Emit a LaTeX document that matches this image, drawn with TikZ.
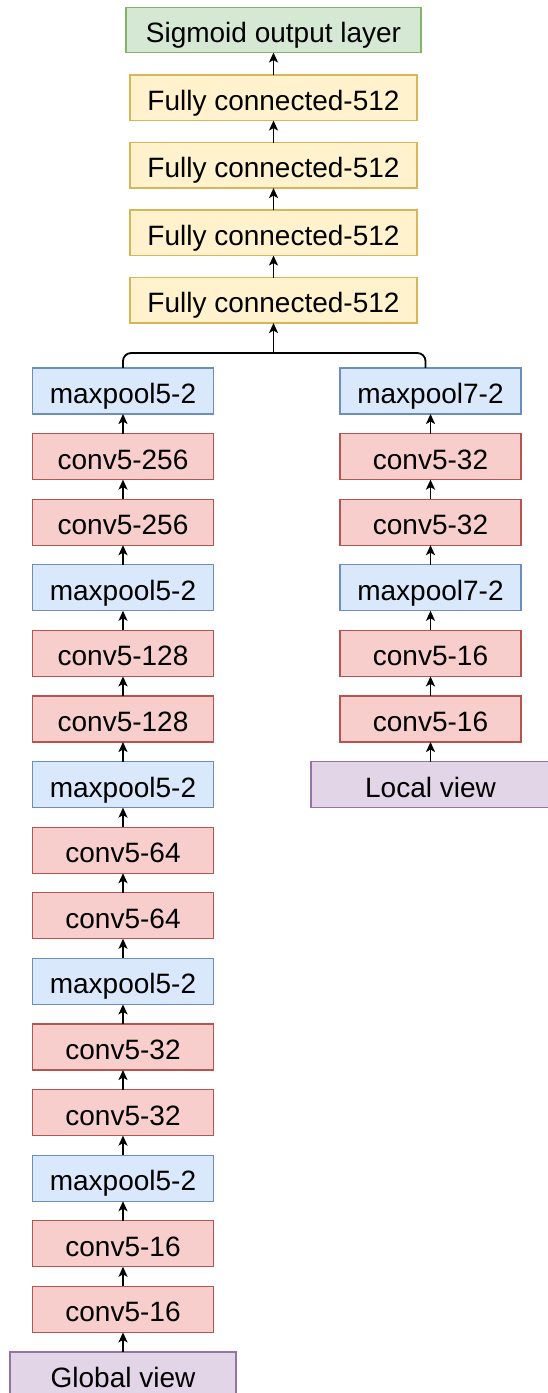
\documentclass[tikz,border=0pt]{standalone}
\usepackage{fontspec}
\setmainfont{Liberation Sans}
\usetikzlibrary{positioning,arrows.meta}

\definecolor{outfill}{HTML}{D5E8D4}
\definecolor{outline}{HTML}{82B366}
\definecolor{fcfill}{HTML}{FFF2CC}
\definecolor{fcline}{HTML}{D6B656}
\definecolor{poolfill}{HTML}{DAE8FC}
\definecolor{poolline}{HTML}{6C8EBF}
\definecolor{convfill}{HTML}{F8CECC}
\definecolor{convline}{HTML}{B85450}
\definecolor{viewfill}{HTML}{E1D5E7}
\definecolor{viewline}{HTML}{9673A6}

\tikzset{
  layer/.style={rectangle, inner sep=0pt, outer sep=0pt, line width=1.2pt,
    minimum width=181pt, minimum height=46pt,
    text height=25pt, text depth=0pt,
    font=\fontsize{28}{32}\selectfont},
  conv/.style={layer, draw=convline, fill=convfill},
  pool/.style={layer, draw=poolline, fill=poolfill},
  fc/.style={layer, draw=fcline, fill=fcfill, minimum width=287pt, minimum height=45.5pt},
  outlayer/.style={layer, draw=outline, fill=outfill, minimum width=295pt, minimum height=45pt},
  view/.style={layer, draw=viewline, fill=viewfill},
  flow/.style={-{Stealth[length=10pt,width=9pt,inset=2.5pt]}, line width=1.8pt},
}

\begin{document}
\begin{tikzpicture}[x=1pt, y=1pt, node distance=19.6pt]
  \useasboundingbox (0,0) rectangle (548,1393);
  \begin{scope}
  \clip (0,0) rectangle (548,1393);

  % global branch
  \node[view, minimum width=226pt] (gview) at (123,18) {Global view};
  \node[conv] (g1) [above=of gview] {conv5-16};
  \node[conv] (g2) [above=of g1] {conv5-16};
  \node[pool] (g3) [above=of g2] {maxpool5-2};
  \node[conv] (g4) [above=of g3] {conv5-32};
  \node[conv] (g5) [above=of g4] {conv5-32};
  \node[pool] (g6) [above=of g5] {maxpool5-2};
  \node[conv] (g7) [above=of g6] {conv5-64};
  \node[conv] (g8) [above=of g7] {conv5-64};
  \node[pool] (g9) [above=of g8] {maxpool5-2};
  \node[conv] (g10) [above=of g9] {conv5-128};
  \node[conv] (g11) [above=of g10] {conv5-128};
  \node[pool] (g12) [above=of g11] {maxpool5-2};
  \node[conv] (g13) [above=of g12] {conv5-256};
  \node[conv] (g14) [above=of g13] {conv5-256};
  \node[pool] (g15) [above=of g14] {maxpool5-2};

  % local branch
  \node[view, minimum width=239pt] (lview) at (430.5,608.4) {Local view};
  \node[conv] (l1) [above=of lview] {conv5-16};
  \node[conv] (l2) [above=of l1] {conv5-16};
  \node[pool] (l3) [above=of l2] {maxpool7-2};
  \node[conv] (l4) [above=of l3] {conv5-32};
  \node[conv] (l5) [above=of l4] {conv5-32};
  \node[pool] (l6) [above=of l5] {maxpool7-2};

  % dense head
  \node[fc] (fc4) at (273.5,1092.7) {Fully connected-512};
  \node[fc] (fc3) [above=22pt of fc4] {Fully connected-512};
  \node[fc] (fc2) [above=22pt of fc3] {Fully connected-512};
  \node[fc] (fc1) [above=22pt of fc2] {Fully connected-512};
  \node[outlayer] (out) [above=22.5pt of fc1] {Sigmoid output layer};

  \draw[flow] (gview) -- (g1);
  \draw[flow] (g1) -- (g2);
  \draw[flow] (g2) -- (g3);
  \draw[flow] (g3) -- (g4);
  \draw[flow] (g4) -- (g5);
  \draw[flow] (g5) -- (g6);
  \draw[flow] (g6) -- (g7);
  \draw[flow] (g7) -- (g8);
  \draw[flow] (g8) -- (g9);
  \draw[flow] (g9) -- (g10);
  \draw[flow] (g10) -- (g11);
  \draw[flow] (g11) -- (g12);
  \draw[flow] (g12) -- (g13);
  \draw[flow] (g13) -- (g14);
  \draw[flow] (g14) -- (g15);

  \draw[flow] (lview) -- (l1);
  \draw[flow] (l1) -- (l2);
  \draw[flow] (l2) -- (l3);
  \draw[flow] (l3) -- (l4);
  \draw[flow] (l4) -- (l5);
  \draw[flow] (l5) -- (l6);

  % merge of both branches
  \coordinate (join) at ([yshift=-30pt]fc4.south);
  \draw[line width=1.8pt, rounded corners=8pt] (g15.north) |- (join) -| ([xshift=-5pt]l6.north);
  \draw[flow] (join) -- (fc4);
  \draw[flow] (fc4) -- (fc3);
  \draw[flow] (fc3) -- (fc2);
  \draw[flow] (fc2) -- (fc1);
  \draw[flow] (fc1) -- (out);
  \end{scope}
\end{tikzpicture}
\end{document}
